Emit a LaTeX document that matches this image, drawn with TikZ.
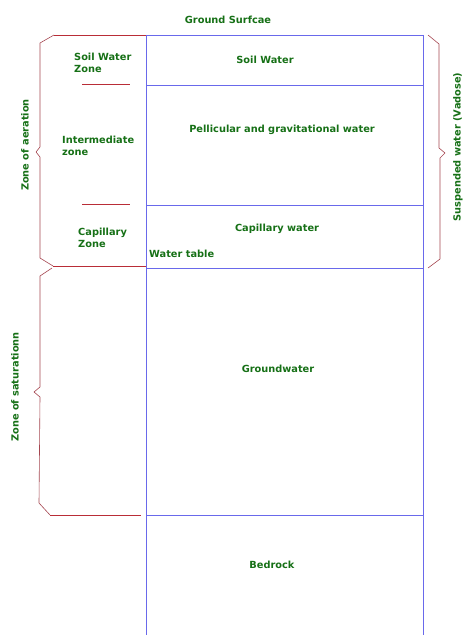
\documentclass[tikz,border=0pt]{standalone}
\usepackage{fontspec}
\setmainfont{DejaVu Sans}
\usetikzlibrary{positioning}
\definecolor{labelgreen}{RGB}{22,112,22}
\definecolor{layerblue}{RGB}{105,105,235}
\definecolor{zonered}{RGB}{185,45,55}
\definecolor{bracegrey}{RGB}{165,70,80}

\begin{document}
\begin{tikzpicture}[x=1pt,y=-1pt]

\tikzset{lbl/.style={text=labelgreen,font=\fontsize{9.8}{12}\selectfont\bfseries,inner sep=0pt},
lbll/.style={lbl,align=left,anchor=west},
layer/.style={draw=layerblue,line width=0.6pt},
zone/.style={draw=zonered,line width=0.6pt},
brace/.style={draw=bracegrey,line width=0.6pt,line join=round}}

\useasboundingbox (0,0) rectangle (474,642);

% Layer boundaries
\draw[layer] (146,35) -- (146,635);
\draw[layer] (423,35) -- (423,635);
\draw[layer] (146,35) -- (423,35);
\draw[layer] (146,85) -- (423,85);
\draw[layer] (146,205) -- (423,205);
\draw[layer] (146,268) -- (423,268);
\draw[layer] (146,515) -- (423,515);

% Zone limits
\draw[zone] (54,35) -- (146,35);
\draw[zone] (82,84) -- (130,84);
\draw[zone] (82,204) -- (130,204);
\draw[zone] (53,266) -- (146,266);
\draw[zone] (50,515) -- (141,515);

% Braces
\draw[brace] (54,35) -- (40,43) -- (40,147) -- (36,152) -- (40,157) -- (40,258) -- (53,266);
\draw[brace] (52,268) -- (40,276) -- (40,387) -- (34,392) -- (40,397) -- (39,503) -- (50,515);
\draw[brace] (428,35) -- (439,44) -- (439,148) -- (445,153) -- (440,158) -- (440,259) -- (428,268);

% Labels
\node (surface) [lbl] at (228,20) {Ground Surfcae};
\node (soilzone) [lbll] at (74,63) {Soil Water\\Zone};
\node (interzone) [lbll] at (62,146) {Intermediate\\zone};
\node (capzone) [lbll] at (78,238) {Capillary\\Zone};
\node (soilwater) [lbl] at (265,60) {Soil Water};
\node (pellicular) [lbl] at (282,130) {Pellicular and gravitational water};
\node (capwater) [lbl] at (277,229) {Capillary water};
\node (watertable) [lbll] at (149,254) {Water table};
\node (groundwater) [lbl] at (278,369) {Groundwater};
\node (bedrock) [lbl] at (272,565) {Bedrock};
\node (aeration) [lbl,rotate=90] at (25,145) {Zone of aeration};
\node (saturation) [lbl,rotate=90] at (15,387) {Zone of saturationn};
\node (vadose) [lbl,rotate=90] at (458,147) {Suspended water (Vadose)};

\end{tikzpicture}
\end{document}
